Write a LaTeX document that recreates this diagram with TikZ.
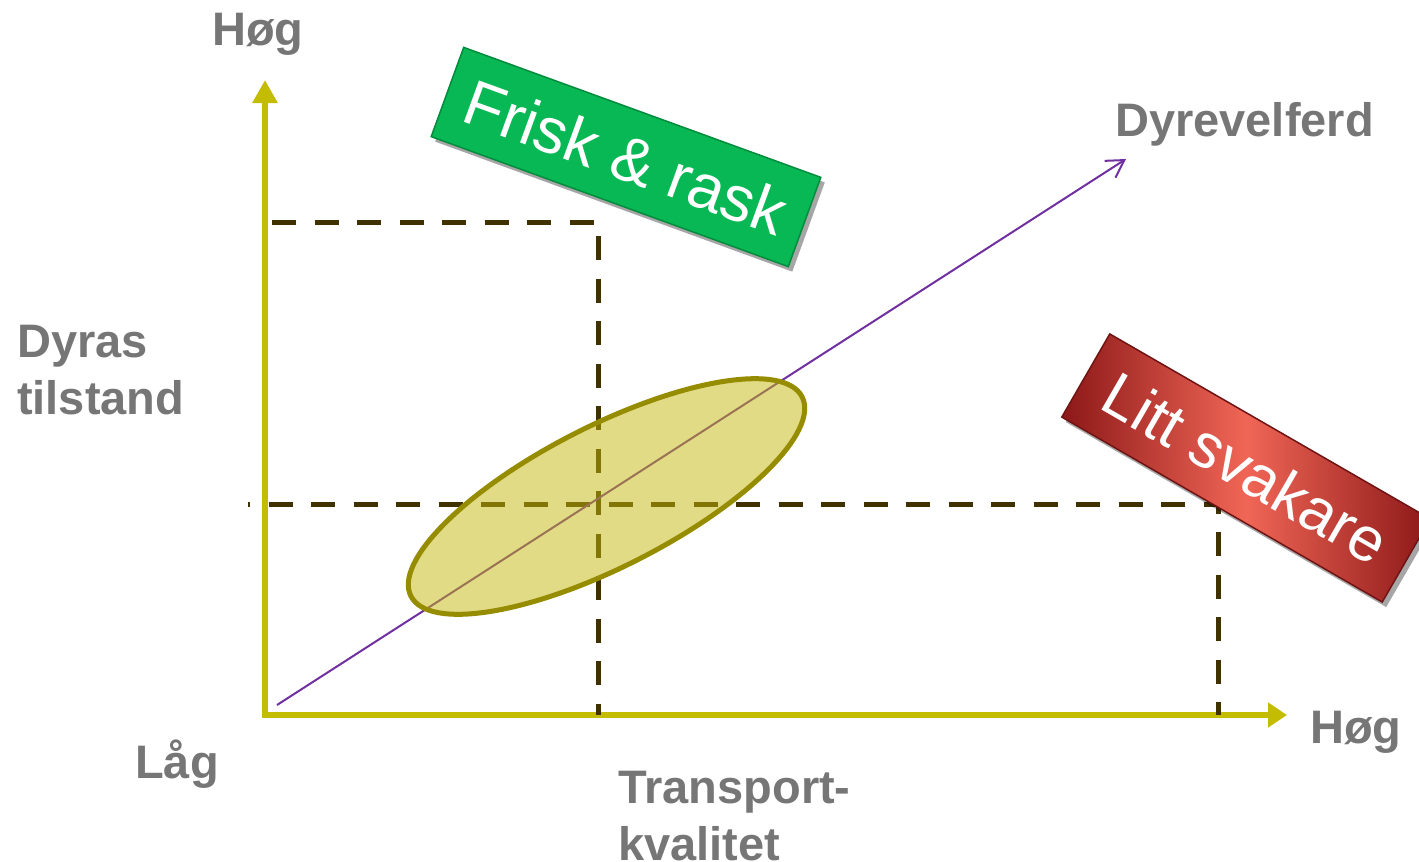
\documentclass[tikz,border=0pt]{standalone}
\usepackage{fontspec}
\setmainfont{Liberation Sans}
\usetikzlibrary{arrows.meta,shadows,shapes.geometric}
\definecolor{axisyellow}{RGB}{196,188,0}
\definecolor{labelgrey}{RGB}{118,118,118}
\definecolor{dashbrown}{RGB}{64,49,0}
\definecolor{arrowpurple}{RGB}{112,48,160}
\definecolor{ellfill}{RGB}{197,183,11}
\definecolor{elldraw}{RGB}{150,140,0}
\definecolor{boxgreen}{RGB}{8,184,84}
\definecolor{boxgreendark}{RGB}{0,140,60}
\definecolor{boxredlight}{RGB}{240,102,86}
\definecolor{boxreddark}{RGB}{140,24,24}
\tikzset{
  axisline/.style={draw=axisyellow, line width=6pt},
  guide/.style={draw=dashbrown, line width=5pt, dash pattern=on 24pt off 18.5pt},
  axislabel/.style={text=labelgrey, font=\fontsize{47}{57}\selectfont\bfseries, inner sep=0pt},
  tagbox/.style={text=white, inner sep=0pt,
    drop shadow={shadow xshift=4pt, shadow yshift=-5pt, opacity=0.35, fill=black}},
}
\begin{document}
\begin{tikzpicture}[x=1pt,y=-1pt]
\useasboundingbox (0,0) rectangle (1419,862);
% reference points
\coordinate (O) at (265,715);
\coordinate (ytip) at (265,80);
\coordinate (xtip) at (1287,715);
\coordinate (xstart) at (262,715);
\coordinate (dA) at (272,222);
\coordinate (dAc) at (598,715);
\coordinate (dB) at (248,504);
\coordinate (dBc) at (1218,504);
\coordinate (dBe) at (1218,715);
\coordinate (pstart) at (277,705);
\coordinate (ptip) at (1126,159);

% axes
\draw[axisline, -{Triangle[length=23pt,width=24pt]}] (O) -- (ytip);
\draw[axisline, -{Triangle[length=19pt,width=24pt]}] (xstart) -- (xtip);

% dashed guides
\draw[guide] (dA) -| (dAc);
\draw[guide, dash phase=22pt] (dB) -- (dBc) -- (dBe);

% diagonal arrow
\draw[draw=arrowpurple, line width=2pt, -{Straight Barb[length=17pt,width=20pt]}] (pstart) -- (ptip);

% ellipse
\node[draw=elldraw, line width=5pt, fill=ellfill, fill opacity=0.5, ellipse,
      minimum width=439pt, minimum height=141pt, inner sep=0pt, rotate=27]
  (ell) at (606.5,496.5) {};

% labels
\node[axislabel, anchor=base] (hogy) at (258,45) {Høg};
\node[axislabel, anchor=base west] (dyrev) at (1115,136) {Dyrevelferd};
\node[axislabel, anchor=base west, align=left] (dyras) at (17,414) {Dyras\\tilstand};
\node[axislabel, anchor=base west] (lag) at (135,778) {Låg};
\node[axislabel, anchor=base west, align=left] (transp) at (618,860) {Transport-\\kvalitet};
\node[axislabel, anchor=base west] (hogx) at (1310,743) {Høg};

% tags
\node[tagbox, font=\fontsize{64}{70}\selectfont, rotate=-20, minimum width=380pt, minimum height=95pt,
      fill=boxgreen, draw=boxgreendark, line width=1.5pt] (frisk) at (626,157) {Frisk \& rask};
\node[tagbox, font=\fontsize{62}{70}\selectfont, rotate=-30, minimum width=370pt, minimum height=96pt,
      left color=boxreddark, right color=boxreddark, middle color=boxredlight,
      draw=boxreddark!80!black, line width=1.5pt] (svak) at (1246,468) {Litt svakare};
\end{tikzpicture}
\end{document}
